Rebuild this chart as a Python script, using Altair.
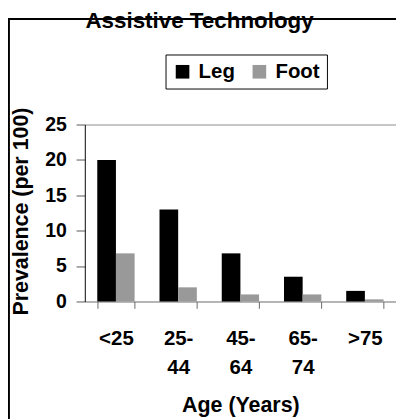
import altair as alt
import pandas as pd

categories = ["<25", "25-44", "45-64", "65-74", ">75"]
leg = [20, 13, 6.8, 3.5, 1.5]
foot = [6.8, 2, 1, 1, 0.3]
series = ["Leg", "Foot"]
y_ticks = [0, 5, 10, 15, 20, 25]

rows = []
for c, l, f in zip(categories, leg, foot):
    rows.append({"age": c, "part": "Leg", "value": l})
    rows.append({"age": c, "part": "Foot", "value": f})
df = pd.DataFrame(rows)

FONT = "Liberation Sans"

bars = alt.Chart(df).mark_bar(strokeWidth=0).encode(
    x=alt.X(
        "age:N",
        sort=categories,
        scale=alt.Scale(paddingInner=0.4, paddingOuter=0.2),
        axis=alt.Axis(
            title="Age (Years)",
            labelAngle=0,
            tickBand="extent",
            tickSize=7,
            tickColor="#666666",
            domainColor="#666666",
            labelPadding=20,
            labelBaseline="top",
            labelLineHeight=30,
            labelFontSize=21,
            labelFont=FONT,
            labelFontWeight="bold",
            labelColor="black",
            labelExpr="length(datum.label) > 3 ? [slice(datum.label, 0, 3), slice(datum.label, 3)] : datum.label",
            titleFontSize=22,
            titleFont=FONT,
            titleFontWeight="bold",
            titleColor="black",
            titleY=113,
            titleBaseline="alphabetic",
        ),
    ),
    xOffset=alt.XOffset("part:N", sort=series),
    y=alt.Y(
        "value:Q",
        scale=alt.Scale(domain=[0, 25], nice=False),
        axis=alt.Axis(
            title="Prevalence (per 100)",
            values=y_ticks,
            grid=True,
            gridColor="#888888",
            gridOpacity=alt.expr("datum.value == 25 ? 1 : 0"),
            labelOverlap=False,
            tickSize=9,
            tickColor="#555555",
            domainColor="black",
            labelPadding=10,
            labelFontSize=20,
            labelFont=FONT,
            labelFontWeight="bold",
            labelColor="black",
            titleFontSize=22,
            titleFont=FONT,
            titleFontWeight="bold",
            titleColor="black",
            titleX=-66,
            titleY=89,
            titleAngle=-90,
            titleAlign="center",
            titleBaseline="middle",
        ),
    ),
    color=alt.Color(
        "part:N",
        sort=series,
        scale=alt.Scale(domain=series, range=["#000000", "#999999"]),
        legend=alt.Legend(
            title=None,
            orient="none",
            legendX=83,
            legendY=-72,
            direction="horizontal",
            symbolType="square",
            symbolSize=196,
            symbolStrokeWidth=0,
            labelFontSize=21,
            labelFont=FONT,
            labelFontWeight="bold",
            labelColor="black",
            labelOffset=6,
            columnPadding=14,
            padding=7,
            strokeColor="black",
        ),
    ),
)

frame = alt.Chart(df).mark_rect(
    fillOpacity=0, stroke="black", strokeWidth=1.5
).encode(
    x=alt.value(-78.5), x2=alt.value(340), y=alt.value(-108.5), y2=alt.value(330)
)

chart = alt.layer(frame, bars).properties(
    width=320,
    height=182,
    autosize=alt.AutoSizeParams(type="none"),
    padding={"left": 79, "top": 114, "right": 0, "bottom": 115},
    title=alt.Title(
        "Assistive Technology",
        fontSize=23,
        font=FONT,
        fontWeight="bold",
        color="black",
        anchor="middle",
        dx=-42,
        baseline="alphabetic",
        offset=0,
        dy=33,
    ),
).configure_view(stroke=None)

chart.save("out.html", embed_options={"renderer": "svg", "actions": False})
